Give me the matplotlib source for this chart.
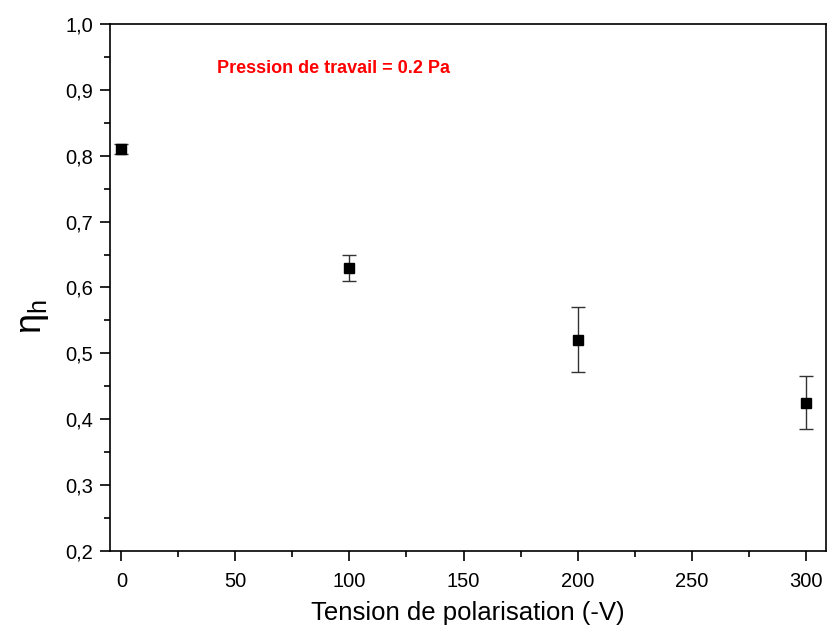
import matplotlib
matplotlib.use('Agg')
import matplotlib.pyplot as plt
from matplotlib.ticker import MultipleLocator, FuncFormatter

matplotlib.rcParams['font.family'] = ['Liberation Sans', 'DejaVu Sans']
matplotlib.rcParams['mathtext.fontset'] = 'custom'
matplotlib.rcParams['mathtext.rm'] = 'Liberation Sans'

tension = [0, 100, 200, 300]
eta_h = [0.81, 0.63, 0.521, 0.425]
err = [0.008, 0.02, 0.05, 0.04]

fig = plt.figure(figsize=(8.27, 6.3), dpi=100)
ax = fig.add_axes([0.133, 0.1254, 0.866, 0.8366])

ax.errorbar(tension, eta_h, yerr=err, fmt='s', color='black', ms=7,
            ecolor='#333333', elinewidth=1, capsize=5, capthick=1)

ax.set_xlim(-5, 309)
ax.set_ylim(0.2, 1.0)
ax.xaxis.set_major_locator(MultipleLocator(50))
ax.xaxis.set_minor_locator(MultipleLocator(25))
ax.yaxis.set_major_locator(MultipleLocator(0.1))
ax.yaxis.set_minor_locator(MultipleLocator(0.05))
ax.yaxis.set_major_formatter(FuncFormatter(lambda v, p: ('%.1f' % v).replace('.', ',')))

ax.tick_params(which='both', direction='out', top=False, right=False, width=1.2)
ax.tick_params(which='major', length=7, labelsize=14.5)
ax.tick_params(axis='y', which='major', pad=5)
ax.tick_params(axis='x', which='major', pad=8)
ax.tick_params(which='minor', length=4)
for s in ax.spines.values():
    s.set_linewidth(1.2)

ax.set_xlabel('Tension de polarisation (-V)', fontsize=18.5, labelpad=7)
ax.set_ylabel(r'$\mathrm{\eta_h}$', fontsize=26)
ax.yaxis.set_label_coords(-0.083, 0.445)

ax.text(42, 0.933, 'Pression de travail = 0.2 Pa', color='red', fontweight='bold',
        fontsize=13, va='center')

fig.savefig('out.png', dpi=100)
